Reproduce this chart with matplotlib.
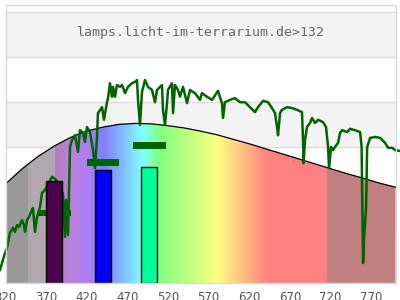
import numpy as np
import matplotlib
matplotlib.use('Agg')
import matplotlib.pyplot as plt
from matplotlib.colors import LinearSegmentedColormap
from matplotlib.patches import Polygon

title_text = 'lamps.licht-im-terrarium.de>132'

# reference curve (daylight, normalised) every 20 nm
curve_nm = [320, 340, 360, 380, 400, 420, 440, 460, 480, 500, 520, 540, 560,
            580, 600, 620, 640, 660, 680, 700, 720, 740, 760, 780, 800]
curve_val = [2.19, 2.52, 2.80, 3.03, 3.22, 3.36, 3.45, 3.51, 3.53, 3.52, 3.48,
             3.43, 3.36, 3.28, 3.18, 3.08, 2.97, 2.86, 2.75, 2.64, 2.53, 2.42,
             2.32, 2.21, 2.12]

# measured lamp spectrum
line_nm = [313.2, 316.9, 319.4, 321.8, 325.5, 329.2, 331.7, 334.2, 336.6, 340.3,
           342.8, 344.0, 346.5, 348.9, 352.6, 353.8, 356.3, 358.8, 362.5, 364.9,
           368.6, 372.3, 377.2, 382.2, 387.1, 390.8, 393.2, 394.5, 396.9, 398.2,
           399.4, 401.8, 405.5, 409.2, 411.7, 415.4, 417.8, 420.3, 424.0, 427.7,
           430.2, 432.6, 433.8, 438.8, 441.2, 444.9, 446.2, 448.6, 451.1, 452.3,
           454.8, 457.2, 460.9, 463.4, 467.1, 470.8, 475.7, 479.4, 481.8, 483.1,
           485.5, 488.0, 491.7, 495.4, 500.3, 504.0, 506.5, 512.6, 513.8, 516.3,
           518.8, 520.0, 524.9, 526.2, 528.6, 532.3, 534.8, 538.5, 543.4, 547.1,
           553.2, 559.4, 561.8, 568.0, 574.2, 581.5, 586.4, 587.7, 590.1, 596.3,
           602.4, 608.6, 614.7, 620.9, 627.1, 630.8, 637.0, 643.1, 648.0, 651.7,
           654.2, 655.4, 657.9, 660.3, 666.5, 672.6, 678.8, 684.9, 686.2, 686.8,
           688.6, 691.1, 694.8, 697.3, 700.9, 704.6, 710.8, 714.5, 717.0, 718.2,
           720.7, 723.2, 725.6, 729.3, 731.8, 734.2, 740.4, 744.1, 750.3, 756.4,
           758.3, 758.9, 760.1, 761.4, 763.8, 765.1, 768.8, 774.9, 781.1, 787.2,
           790.9, 795.9, 799.6, 805.8]
line_val = [0.29, 0.51, 0.66, 0.77, 1.11, 1.22, 1.13, 1.28, 1.24, 1.39,
            1.28, 1.13, 1.39, 1.46, 1.62, 1.66, 1.13, 1.46, 1.68, 1.99,
            2.06, 2.17, 2.35, 2.28, 2.17, 1.95, 1.02, 1.84, 1.06, 2.06,
            3.01, 3.16, 3.27, 2.90, 3.38, 3.32, 3.12, 3.45, 3.34, 2.94,
            2.54, 3.23, 3.76, 3.89, 3.61, 4.00, 4.09, 4.42, 4.12, 4.34,
            4.12, 4.38, 4.34, 4.38, 4.20, 4.34, 4.42, 4.45, 4.49, 4.05,
            3.50, 4.23, 4.49, 4.34, 4.27, 4.00, 4.27, 4.38, 3.83, 3.50,
            3.98, 4.27, 4.42, 3.76, 4.38, 4.27, 4.12, 4.34, 3.98, 4.27,
            4.20, 4.05, 4.20, 4.12, 4.05, 4.25, 3.98, 3.65, 4.00, 4.05,
            4.09, 4.00, 4.00, 3.89, 3.78, 3.89, 4.03, 4.00, 3.87, 3.76,
            3.45, 3.27, 3.76, 3.83, 3.89, 3.87, 3.83, 3.78, 3.16, 2.65,
            3.16, 3.45, 3.54, 3.65, 3.54, 3.61, 3.56, 3.45, 3.01, 2.54,
            3.01, 2.94, 3.01, 3.10, 3.32, 3.38, 3.34, 3.41, 3.38, 3.34,
            3.01, 2.06, 0.44, 1.02, 1.68, 3.01, 3.21, 3.23, 3.21, 3.10,
            2.99, 2.99, 2.94, 2.92]

# photoreceptor bars and their green markers
bar_left = [370, 430, 487]
bar_height = [2.25, 2.49, 2.56]
bar_colors = ['#4b004b', '#0000ff', '#00ff99']
marker_val = [1.55, 2.67, 3.05]

tick_nm = [320, 370, 420, 470, 520, 570, 620, 670, 720, 770]

spec_stops = [(320, '#999999'), (347, '#999999'), (347, '#b0a8ac'), (380, '#b0a8ac'),
              (380, '#b07fbf'), (400, '#bb80d8'), (420, '#ae7ef8'), (440, '#8080ff'),
              (465, '#80c0ff'), (488, '#80ffff'), (508, '#80ff80'), (545, '#c0ff80'),
              (580, '#ffff80'), (612, '#ffc080'), (643, '#ff8080'), (715, '#ff8080'),
              (715, '#c08080'), (800, '#c08080')]

x_min, x_max = 320, 800
y_max = 6.15

fig = plt.figure(figsize=(4, 3), dpi=100)
ax = fig.add_axes([5.5 / 400, 17 / 300, 390 / 400, 278 / 300])
ax.set_xlim(x_min, x_max)
ax.set_ylim(0, y_max)

# background bands and grid
for lo in [1, 3, 5]:
    ax.axhspan(lo, lo + 1, color='#f3f3f3', lw=0, zorder=0)
for g in range(1, 7):
    ax.axhline(g, color='#dcdcdc', lw=1, zorder=1)

# spectrum fill under the curve
cmap = LinearSegmentedColormap.from_list(
    'spec', [((n - x_min) / (x_max - x_min), c) for n, c in spec_stops], N=1024)
grad = np.linspace(x_min, x_max, 961)[None, :]
img = ax.imshow(grad, cmap=cmap, vmin=x_min, vmax=x_max, aspect='auto',
                extent=(x_min, x_max, 0, y_max), interpolation='nearest', zorder=2)
poly = Polygon(list(zip(curve_nm, curve_val)) + [(x_max, 0), (x_min, 0)],
               closed=True, facecolor='none', edgecolor='none')
ax.add_patch(poly)
img.set_clip_path(poly)
ax.plot(curve_nm, curve_val, color='black', lw=0.9, zorder=3)

ax.plot(line_nm, line_val, color='#006400', lw=1.8, zorder=4, clip_on=False)

for left, mv in zip(bar_left, marker_val):
    ax.bar(left + 10, 0.15, bottom=mv - 0.075, width=40, color='#006400', zorder=5)
ax.bar(bar_left, bar_height, width=20, align='edge', color=bar_colors,
       edgecolor='black', linewidth=1, zorder=6)

ax.text((x_min + x_max) / 2, 5.55, title_text, ha='center', va='center',
        family='DejaVu Sans Mono', fontsize=9.5, color='#666666', zorder=7)

ax.set_xticks(tick_nm)
ax.set_xticklabels([str(t) for t in tick_nm], fontsize=8.5, color='#555555')
ax.tick_params(axis='x', length=0, pad=5.5)
ax.set_yticks([])
for s in ax.spines.values():
    s.set_color('#d9d9d9')
    s.set_linewidth(1)
    s.set_zorder(8)

plt.savefig('out.png', dpi=100)
plt.close()
